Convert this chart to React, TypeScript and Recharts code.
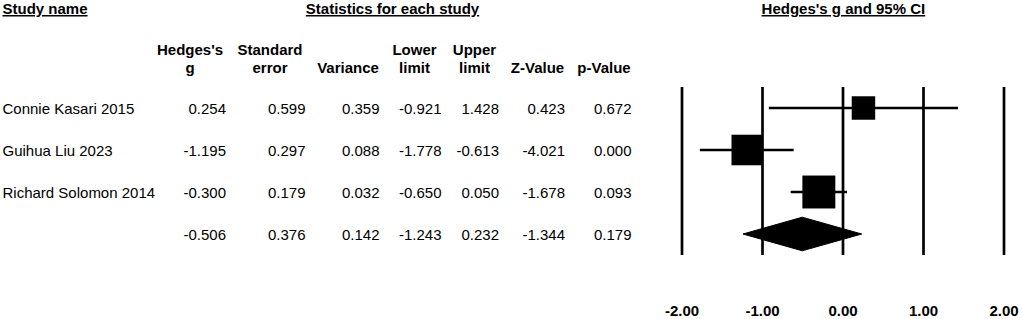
import { ComposedChart, XAxis, YAxis, Scatter, ReferenceLine } from 'recharts';

const FONT = '"Liberation Sans", Arial, sans-serif';

const studies = ['Connie Kasari 2015', 'Guihua Liu 2023', 'Richard Solomon 2014'];
const hedgesG = [0.254, -1.195, -0.3];
const stdErr = [0.599, 0.297, 0.179];
const variance = [0.359, 0.088, 0.032];
const lowerLimit = [-0.921, -1.778, -0.65];
const upperLimit = [1.428, -0.613, 0.05];
const zValue = [0.423, -4.021, -1.678];
const pValue = [0.672, 0.0, 0.093];
// relative weights (%) used for box size
const weights = [21.4, 36.4, 42.2];

const overall = { g: -0.506, se: 0.376, v: 0.142, lower: -1.243, upper: 0.232, z: -1.344, p: 0.179 };

const xTicks = [-2, -1, 0, 1, 2];

// row positions on the y scale (top study = 4, summary = 1)
const rows = studies.map((name, i) => ({
  y: 4 - i,
  name,
  cells: [hedgesG[i], stdErr[i], variance[i], lowerLimit[i], upperLimit[i], zValue[i], pValue[i]],
}));
const summaryRow = {
  y: 1,
  name: '',
  cells: [overall.g, overall.se, overall.v, overall.lower, overall.upper, overall.z, overall.p],
};
const tableRows = [...rows, summaryRow];

const squares = studies.map((_, i) => ({ x: hedgesG[i], y: 4 - i, w: weights[i] }));
const diamondHalf = 0.4;
const diamond = [
  { x: overall.lower, y: 1 },
  { x: overall.g, y: 1 + diamondHalf },
  { x: overall.upper, y: 1 },
  { x: overall.g, y: 1 - diamondHalf },
];

const colRight = [226, 305.5, 379.5, 441.5, 499, 565, 631.5];
const headers = [
  { cx: 190, lines: ["Hedges's", 'g'] },
  { cx: 270, lines: ['Standard', 'error'] },
  { cx: 348, lines: ['', 'Variance'] },
  { cx: 414.5, lines: ['Lower', 'limit'] },
  { cx: 474.5, lines: ['Upper', 'limit'] },
  { cx: 537.5, lines: ['', 'Z-Value'] },
  { cx: 604, lines: ['', 'p-Value'] },
];

const underline = {
  textDecoration: 'underline',
  textDecorationThickness: '1.6px',
  textUnderlineOffset: '3px',
} as const;

function RowTick(props: any) {
  const { y, payload } = props;
  const row = tableRows.find((r) => r.y === payload.value);
  if (!row) return <g />;
  return (
    <g fontFamily={FONT} fontSize={15} fill="#000">
      <text x={2.5} y={y + 6}>{row.name}</text>
      {row.cells.map((c, i) => (
        <text key={i} x={colRight[i]} y={y + 6} textAnchor="end">
          {c.toFixed(3)}
        </text>
      ))}
    </g>
  );
}

function Square(props: any) {
  const { cx, cy, payload } = props;
  const side = 5.07 * Math.sqrt(payload.w);
  return <rect x={cx - side / 2} y={cy - side / 2} width={side} height={side} fill="#000" />;
}

function DiamondShape(p: any) {
  const pts = (p.points || []).map((pt: any) => `${pt.x},${pt.y}`).join(' ');
  return <polygon points={pts} fill="#000" stroke="#000" strokeWidth={1} />;
}

export default function App() {
  return (
    <div style={{ position: 'absolute', left: 0, top: 0, width: 1022, height: 319, background: '#fff' }}>
      <ComposedChart width={1022} height={319} margin={{ top: 87, right: 18, bottom: 0, left: 0 }}>
        <XAxis
          dataKey="x"
          type="number"
          domain={[-2, 2]}
          ticks={xTicks}
          tickFormatter={(v: number) => v.toFixed(2)}
          axisLine={false}
          tickLine={false}
          tickSize={0}
          tickMargin={50}
          height={64}
          tick={{ fill: '#000', fontSize: 15, fontWeight: 'bold', fontFamily: FONT }}
        />
        <YAxis
          dataKey="y"
          type="number"
          domain={[0.5, 4.5]}
          ticks={[1, 2, 3, 4]}
          interval={0}
          allowDataOverflow
          width={682}
          axisLine={false}
          tickLine={false}
          tick={<RowTick />}
        />
        {xTicks.map((t) => (
          <ReferenceLine key={t} x={t} stroke="#000" strokeWidth={2.7} />
        ))}
        {studies.map((s, i) => (
          <ReferenceLine
            key={s}
            segment={[
              { x: lowerLimit[i], y: 4 - i },
              { x: upperLimit[i], y: 4 - i },
            ]}
            stroke="#000"
            strokeWidth={2.7}
          />
        ))}
        <Scatter data={squares} shape={<Square />} isAnimationActive={false} />
        <Scatter
          data={diamond}
          shape={() => <g />}
          line={DiamondShape}
          isAnimationActive={false}
        />
      </ComposedChart>
      <svg
        width={1022}
        height={80}
        style={{ position: 'absolute', left: 0, top: 0, pointerEvents: 'none' }}
      >
        <g fontFamily={FONT} fontSize={15} fontWeight="bold" fill="#000">
          <text x={2.5} y={14} style={underline}>Study name</text>
          <text x={392.5} y={14} textAnchor="middle" style={underline}>
            Statistics for each study
          </text>
          <text x={843.4} y={14} textAnchor="middle" style={underline}>
            Hedges's g and 95% CI
          </text>
          {headers.map((h) => (
            <g key={h.cx}>
              {h.lines[0] && (
                <text x={h.cx} y={54.5} textAnchor="middle">
                  {h.lines[0]}
                </text>
              )}
              <text x={h.cx} y={73} textAnchor="middle">
                {h.lines[1]}
              </text>
            </g>
          ))}
        </g>
      </svg>
    </div>
  );
}
